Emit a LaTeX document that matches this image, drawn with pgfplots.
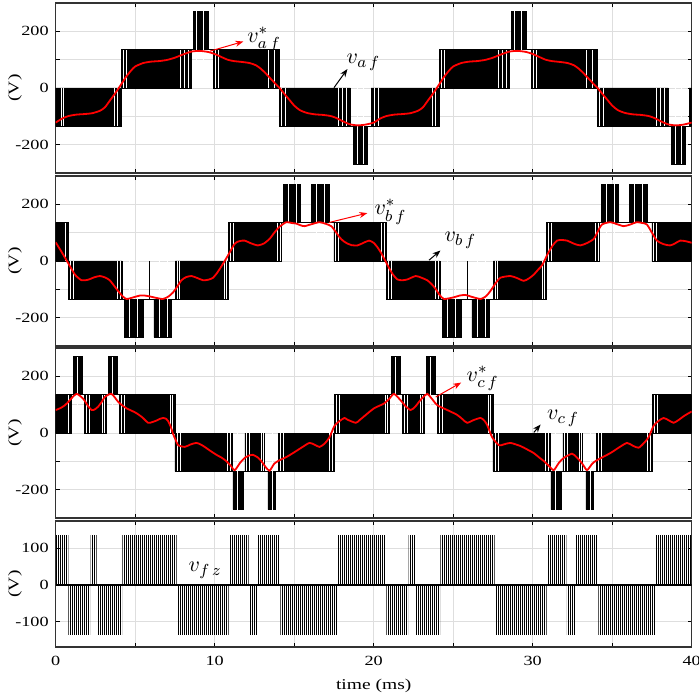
\documentclass[border=0pt]{standalone}
\usepackage{fontspec}
\setmainfont{Liberation Serif}[FakeStretch=1.3]
\usepackage{pgfplots}
\pgfplotsset{compat=1.18}
\usetikzlibrary{patterns.meta,arrows.meta}

\tikzset{lab/.style={font=\fontsize{11}{12}\selectfont}}
\pgfplotsset{
  panel/.style={
    scale only axis, width=318pt, xmin=0, xmax=40,
    xtick={0,5,...,40}, grid=major,
    major grid style={black!13, line width=0.4pt},
    tick style={black, line width=0.4pt}, major tick length=2pt,
    axis line style={black!80, line width=0.6pt},
    tick label style={font=\fontsize{7}{8}\selectfont},
    label style={font=\fontsize{7.5}{8}\selectfont},
    /pgf/number format/assume math mode=true,
    anchor=north west, clip=true,
    ylabel={(V)},
    ylabel style={at={(axis description cs:-0.064,0.5)}, anchor=center},
  },
  vpanel/.style={panel, height=85pt, ymin=-300, ymax=300,
    ytick={-200,-100,0,100,200}, yticklabels={-200,,0,,200},
    xticklabels={}},
  env/.style={fill=black, draw=black, line width=0.3pt},
  wl/.style={ycomb, white, line width=0.28pt, no marks},
  ref/.style={red, line width=0.9pt, smooth, tension=0.4, no marks},
  pz/.style={draw=none, pattern={Lines[angle=90,distance=1pt,line width=0.5pt]}, pattern color=black},
}

\begin{document}
\begin{tikzpicture}
\path[use as bounding box] (-27.85pt,1.5pt) rectangle (321.15pt,-348.5pt);

% ---------------- panel a ----------------
\begin{axis}[vpanel, at={(0pt,0pt)}]
\addplot[env] coordinates {
(0,0)(4.14,0)(4.14,135)(8.64,135)(8.64,270)(9.58,270)(9.58,135)(14.08,135)(14.08,0)(18.54,0)(18.54,-135)(19.84,-135)(19.84,0)(24.14,0)(24.14,135)(28.64,135)(28.64,270)(29.58,270)(29.58,135)(34.08,135)(34.08,0)(38.54,0)(38.54,-135)(39.84,-135)(39.84,0)(40,0)
(40,-135)(39.6,-135)(39.6,-270)(38.7,-270)(38.7,-135)(34.08,-135)(34.08,0)(29.9,0)(29.9,135)(28.54,135)(28.54,0)(24.14,0)(24.14,-135)(19.6,-135)(19.6,-270)(18.7,-270)(18.7,-135)(14.08,-135)(14.08,0)(9.9,0)(9.9,135)(8.54,135)(8.54,0)(4.14,0)(4.14,-135)(0,-135)} -- cycle;
\addplot[wl] coordinates {
(0.32,-135)(0.5,-135)(3.7,-135)(3.88,-135)(4.25,135)(4.42,135)(7.85,135)(8.1,135)(8.35,135)(8.85,270)(9.3,270)
(10.05,135)(10.25,135)(13.4,135)(13.75,135)(14.2,-135)(14.45,-135)(17.8,-135)(18.05,-135)(18.3,-135)(18.95,-270)(19.35,-270)
(20.02,-135)(20.3,-135)(23.7,-135)(23.88,-135)(24.25,135)(24.42,135)(27.85,135)(28.1,135)(28.35,135)(28.85,270)(29.3,270)
(30.05,135)(30.25,135)(33.4,135)(33.75,135)(34.2,-135)(34.45,-135)(37.8,-135)(38.05,-135)(38.3,-135)(38.95,-270)(39.35,-270)};
\addplot[ref] coordinates {
(0,-122)(0.4,-108)(0.8,-99)(1.3,-94)(1.8,-92)(2.3,-89)(2.8,-80)(3.1,-68)(3.4,-45)(3.7,-22)(3.97,0)(4.2,20)(4.46,42)(4.75,62)(5.0,76)(5.5,88)(6.0,93)(6.5,95)(7.0,99)(7.5,107)(7.9,116)(8.5,128)(9.05,131)(9.6,127)(10.0,120)(10.4,110)(10.8,100)(11.2,95)(11.7,92)(12.2,88)(12.6,80)(12.9,68)(13.2,52)(13.5,34)(13.8,16)(14.08,0)(14.4,-22)(14.7,-42)(15.0,-62)(15.35,-78)(15.8,-88)(16.3,-93)(16.8,-95)(17.3,-99)(17.7,-107)(18.0,-116)(18.5,-128)(19.0,-132)(19.5,-129)
(20,-122)(20.4,-108)(20.8,-99)(21.3,-94)(21.8,-92)(22.3,-89)(22.8,-80)(23.1,-68)(23.4,-45)(23.7,-22)(23.97,0)(24.2,20)(24.46,42)(24.75,62)(25.0,76)(25.5,88)(26.0,93)(26.5,95)(27.0,99)(27.5,107)(27.9,116)(28.5,128)(29.05,131)(29.6,127)(30.0,120)(30.4,110)(30.8,100)(31.2,95)(31.7,92)(32.2,88)(32.6,80)(32.9,68)(33.2,52)(33.5,34)(33.8,16)(34.08,0)(34.4,-22)(34.7,-42)(35.0,-62)(35.35,-78)(35.8,-88)(36.3,-93)(36.8,-95)(37.3,-99)(37.7,-107)(38.0,-116)(38.5,-128)(39.0,-132)(39.5,-129)(40,-122)};
\draw[red, line width=0.5pt, -{Stealth[length=4pt,width=3pt]}] (axis cs:9.7,130) -- (axis cs:11.8,164);
\node[lab] at (axis cs:13.1,172) {$v^{*}_{a\,f}$};
\draw[black, line width=0.5pt, -{Stealth[length=4pt,width=3pt]}] (axis cs:17.5,1) -- (axis cs:18.35,67);
\node[lab] at (axis cs:19.35,91) {$v_{a\,f}$};
\end{axis}

% ---------------- panel b ----------------
\begin{axis}[vpanel, at={(0pt,-86.5pt)}]
\addplot[env] coordinates {
(0,135)(0.78,135)(0.78,0)(4.17,0)(4.17,-135)(7.52,-135)(7.52,0)(10.87,0)(10.87,135)(14.32,135)(14.32,270)(15.37,270)(15.37,135)(16.1,135)(16.1,270)(17.2,270)(17.2,135)(20.78,135)(20.78,0)(24.17,0)(24.17,-135)(27.52,-135)(27.52,0)(30.87,0)(30.87,135)(34.32,135)(34.32,270)(35.37,270)(35.37,135)(36.1,135)(36.1,270)(37.2,270)(37.2,135)(40,135)
(40,0)(37.5,0)(37.5,135)(34.2,135)(34.2,0)(30.87,0)(30.87,-135)(27.3,-135)(27.3,-270)(26.17,-270)(26.17,-135)(25.48,-135)(25.48,-270)(24.33,-270)(24.33,-135)(20.78,-135)(20.78,0)(17.5,0)(17.5,135)(14.2,135)(14.2,0)(10.87,0)(10.87,-135)(7.3,-135)(7.3,-270)(6.17,-270)(6.17,-135)(5.48,-135)(5.48,-270)(4.33,-270)(4.33,-135)(0.78,-135)(0.78,0)(0,0)} -- cycle;
\addplot[wl] coordinates {
(0.6,135)(0.9,-135)(1.1,-135)(3.9,-135)(4.05,-135)(4.6,-270)(5.1,-270)(6.5,-270)(7.0,-270)(7.65,-135)(7.8,-135)(10.6,-135)(10.75,-135)
(11.0,135)(11.15,135)(13.95,135)(14.1,135)(14.6,270)(15.1,270)(16.4,270)(16.9,270)(17.6,135)(17.75,135)(20.5,135)(20.65,135)
(20.9,-135)(21.1,-135)(23.9,-135)(24.05,-135)(24.6,-270)(25.1,-270)(26.5,-270)(27.0,-270)(27.65,-135)(27.8,-135)(30.6,-135)(30.75,-135)
(31.0,135)(31.15,135)(33.95,135)(34.1,135)(34.6,270)(35.1,270)(36.4,270)(36.9,270)(37.6,135)(37.75,135)};
\addplot[ycomb, black, line width=0.6pt, no marks] coordinates {(5.92,-135)(25.92,-135)};
\addplot[ref] coordinates {
(0,66)(0.37,32)(0.79,-8)(1.21,-48)(1.63,-68)(2.05,-66)(2.4,-58)(2.78,-53)(3.1,-58)(3.4,-68)(3.83,-99)(4.2,-124)(4.46,-134)(4.9,-128)(5.29,-122)(5.6,-122)(5.92,-125)(6.3,-130)(6.75,-134)(7.1,-125)(7.38,-111)(7.65,-90)(7.91,-68)(8.2,-57)(8.54,-53)(8.9,-60)(9.27,-68)(9.6,-66)(9.9,-59)(10.15,-42)(10.42,-19)(10.84,20)(11.26,61)(11.55,70)(11.88,72)(12.3,62)(12.72,55)(13.1,62)(13.45,78)(13.75,100)(14.08,121)(14.5,137)(14.85,134)(15.13,132)(15.4,126)(15.65,123)(16.1,130)(16.59,137)(17.0,131)(17.33,123)(17.6,104)(17.85,84)(18.1,70)(18.37,61)(18.6,56)(18.98,55)(19.35,64)(19.71,72)(20.0,64)(20.23,49)(20.45,30)(20.65,9)(20.97,-25)(21.2,-47)(21.49,-65)(21.8,-68)(22.12,-65)(22.64,-53)(23.0,-59)(23.37,-68)(23.65,-82)(23.9,-99)(24.15,-120)(24.42,-134)(25.05,-128)(25.4,-122)(25.78,-120)(26.2,-127)(26.72,-134)(27.05,-125)(27.34,-106)(27.65,-80)(27.97,-59)(28.6,-53)(29.0,-60)(29.44,-70)(29.75,-62)(30.07,-48)(30.35,-30)(30.6,-14)(31.01,32)(31.3,58)(31.53,72)(31.8,74)(32.16,72)(32.6,61)(32.99,55)(33.4,63)(33.84,78)(34.1,105)(34.36,129)(34.88,137)(35.3,130)(35.72,123)(36.1,128)(36.55,137)(36.9,134)(37.18,129)(37.5,100)(37.81,72)(38.2,60)(38.64,55)(38.95,62)(39.27,72)(39.6,70)(39.9,66)(40,64)};
\draw[red, line width=0.5pt, -{Stealth[length=4pt,width=3pt]}] (axis cs:17.2,136) -- (axis cs:19.6,169);
\node[lab] at (axis cs:21.05,174) {$v^{*}_{b\,f}$};
\draw[black, line width=0.5pt, -{Stealth[length=4pt,width=3pt]}] (axis cs:23.48,3) -- (axis cs:24.2,37);
\node[lab] at (axis cs:25.45,72) {$v_{b\,f}$};
\end{axis}

% ---------------- panel c ----------------
\begin{axis}[vpanel, at={(0pt,-172.5pt)}]
\addplot[env] coordinates {
(0,135)(1.1,135)(1.1,270)(1.66,270)(1.66,135)(3.3,135)(3.3,270)(3.86,270)(3.86,135)(7.5,135)(7.5,0)(11.12,0)(11.12,-135)(11.9,-135)(11.9,0)(13.15,0)(13.15,-135)(14.0,-135)(14.0,0)(17.52,0)(17.52,135)(21.1,135)(21.1,270)(21.66,270)(21.66,135)(23.3,135)(23.3,270)(23.86,270)(23.86,135)(27.5,135)(27.5,0)(31.12,0)(31.12,-135)(31.9,-135)(31.9,0)(33.15,0)(33.15,-135)(34.0,-135)(34.0,0)(37.52,0)(37.52,135)(40,135)
(40,0)(37.52,0)(37.52,-135)(33.84,-135)(33.84,-270)(33.34,-270)(33.34,-135)(31.78,-135)(31.78,-270)(31.15,-270)(31.15,-135)(27.5,-135)(27.5,0)(24.0,0)(24.0,135)(23.18,135)(23.18,0)(21.82,0)(21.82,135)(21.0,135)(21.0,0)(17.52,0)(17.52,-135)(13.84,-135)(13.84,-270)(13.34,-270)(13.34,-135)(11.78,-135)(11.78,-270)(11.15,-270)(11.15,-135)(7.5,-135)(7.5,0)(4.0,0)(4.0,135)(3.18,135)(3.18,0)(1.82,0)(1.82,135)(1.0,135)(1.0,0)(0,0)} -- cycle;
\addplot[wl] coordinates {
(0.8,135)(1.35,270)(1.95,135)(2.1,135)(2.9,135)(3.05,135)(3.55,270)(4.1,135)(4.3,135)(7.2,135)(7.35,135)
(7.65,-135)(7.85,-135)(10.8,-135)(10.95,-135)(11.45,-270)(12.0,-135)(12.15,-135)(12.9,-135)(13.05,-135)(13.6,-270)(14.1,-135)(14.3,-135)(17.2,-135)(17.4,-135)
(17.65,135)(17.85,135)(20.7,135)(20.85,135)(21.35,270)(21.95,135)(22.1,135)(22.9,135)(23.05,135)(23.55,270)(24.1,135)(24.3,135)(27.2,135)(27.35,135)
(27.65,-135)(27.85,-135)(30.8,-135)(30.95,-135)(31.45,-270)(32.0,-135)(32.15,-135)(32.9,-135)(33.05,-135)(33.6,-270)(34.1,-135)(34.3,-135)(37.2,-135)(37.4,-135)
(37.65,135)(37.85,135)};
\addplot[ref] coordinates {
(0,81)(0.3,88)(0.58,98)(0.8,110)(1.0,123)(1.32,138)(1.73,121)(2.0,98)(2.26,81)(2.45,83)(2.67,93)(2.9,110)(3.09,127)(3.51,138)(3.93,110)(4.2,97)(4.46,87)(4.8,78)(5.08,70)(5.45,55)(5.81,36)(6.05,38)(6.34,44)(6.55,50)(6.75,53)(6.95,50)(7.07,42)(7.25,20)(7.38,-3)(7.55,-25)(7.7,-43)(8.12,-49)(8.5,-40)(8.85,-35)(9.1,-40)(9.37,-49)(9.7,-62)(10.11,-77)(10.4,-86)(10.73,-99)(11.0,-115)(11.26,-131)(11.6,-105)(11.88,-88)(12.15,-80)(12.4,-77)(12.7,-86)(12.93,-99)(13.2,-120)(13.45,-133)(13.75,-108)(14.08,-96)(14.5,-85)(14.92,-71)(15.45,-52)(15.96,-35)(16.3,-42)(16.59,-49)(16.9,-38)(17.22,-15)(17.53,25)(17.85,42)(18.16,53)(18.35,47)(18.87,36)(19.1,45)(19.4,59)(20.02,87)(20.65,104)(21.0,122)(21.28,138)(21.7,115)(22.0,95)(22.32,81)(22.6,92)(22.85,110)(23.1,126)(23.37,138)(23.7,118)(24.0,98)(24.63,81)(25.25,64)(25.6,48)(25.88,36)(26.3,46)(26.72,53)(26.95,44)(27.14,28)(27.45,-15)(27.87,-43)(28.2,-40)(28.6,-35)(29.23,-46)(29.65,-58)(30.07,-71)(30.4,-86)(30.7,-99)(31.0,-115)(31.32,-131)(31.65,-105)(31.95,-88)(32.47,-73)(32.75,-85)(32.99,-99)(33.2,-115)(33.42,-131)(33.75,-108)(34.04,-96)(34.88,-71)(35.4,-52)(35.93,-35)(36.3,-45)(36.66,-52)(37.0,-35)(37.29,-15)(37.6,25)(37.9,42)(38.23,53)(38.55,45)(38.86,36)(39.15,45)(39.49,59)(39.75,68)(40,76)};
\draw[red, line width=0.5pt, -{Stealth[length=4pt,width=3pt]}] (axis cs:23.9,127) -- (axis cs:25.5,178);
\node[lab] at (axis cs:26.85,193) {$v^{*}_{c\,f}$};
\draw[black, line width=0.5pt, -{Stealth[length=4pt,width=3pt]}] (axis cs:30.07,2) -- (axis cs:30.5,30);
\node[lab] at (axis cs:31.9,52) {$v_{c\,f}$};
\end{axis}

% ---------------- panel z ----------------
\begin{axis}[panel, at={(0pt,-259pt)}, height=63pt, ymin=-168, ymax=173,
  ytick={-100,0,100}, yticklabels={-100,0,100},
  xticklabels={0,,10,,20,,30,,40},
  xticklabel style={yshift=-1pt},
  xlabel={time (ms)},
  xlabel style={at={(axis description cs:0.5,-0.31)}, anchor=center}]
\addplot[pz] coordinates {
(0,0)(0,135)(0.79,135)(0.79,0)(2.2,0)(2.2,135)(2.58,135)(2.58,0)(4.2,0)(4.2,135)(7.6,135)(7.6,0)(10.9,0)(10.9,135)(12.13,135)(12.13,0)(12.72,0)(12.72,135)(14.08,135)(14.08,0)(17.72,0)(17.72,135)(20.77,135)(20.77,0)(22.2,0)(22.2,135)(22.6,135)(22.6,0)(24.2,0)(24.2,135)(27.6,135)(27.6,0)(30.9,0)(30.9,135)(32.12,135)(32.12,0)(32.73,0)(32.73,135)(34.08,135)(34.08,0)(37.73,0)(37.73,135)(40,135)(40,0)} -- cycle;
\addplot[pz] coordinates {
(0.79,0)(0.79,-135)(2.17,-135)(2.17,0)(2.6,0)(2.6,-135)(4.18,-135)(4.18,0)(7.63,0)(7.63,-135)(10.88,-135)(10.88,0)(12.16,0)(12.16,-135)(12.68,-135)(12.68,0)(14.13,0)(14.13,-135)(17.68,-135)(17.68,0)(20.8,0)(20.8,-135)(22.17,-135)(22.17,0)(22.63,0)(22.63,-135)(24.17,-135)(24.17,0)(27.63,0)(27.63,-135)(30.87,-135)(30.87,0)(32.15,0)(32.15,-135)(32.7,-135)(32.7,0)(34.13,0)(34.13,-135)(37.7,-135)(37.7,0)} -- cycle;
\addplot[black, line width=0.9pt, no marks] coordinates {(0,0)(40,0)};
\node[lab] at (axis cs:9.4,40) {$v_{f\,z}$};
\end{axis}
\end{tikzpicture}
\end{document}
